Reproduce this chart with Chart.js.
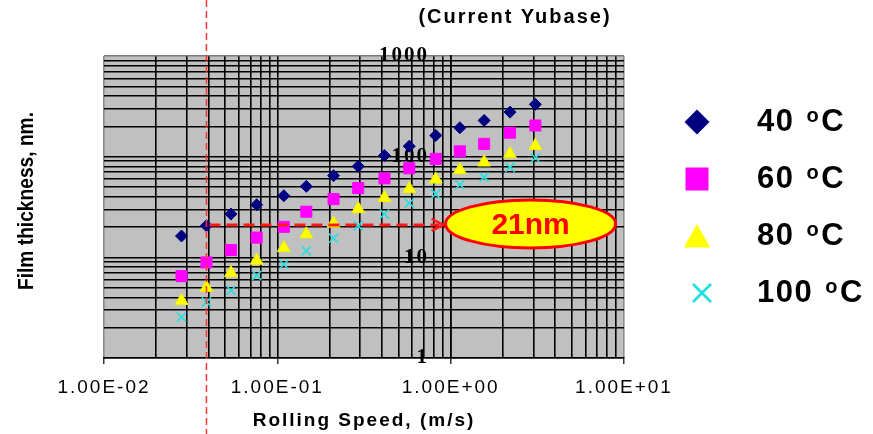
<!DOCTYPE html>
<html>
<head>
<meta charset="utf-8">
<style>
  html, body { margin: 0; padding: 0; background: #fff; }
  #wrap { width: 873px; height: 434px; }
</style>
<script src="https://cdn.jsdelivr.net/npm/chart.js@4.4.1/dist/chart.umd.min.js"></script>
</head>
<body>
<div id="wrap"><canvas id="c" width="873" height="434"></canvas></div>
<script>
// rolling speed, m/s (same speeds for every temperature)
const speeds = [0.028, 0.039, 0.054, 0.076, 0.109, 0.147, 0.211, 0.293, 0.415, 0.577, 0.82, 1.13, 1.56, 2.2, 3.08]
// film thickness, nm
const film40 = [16.3, 20.6, 26.9, 33.3, 40.9, 50.7, 64.8, 80.2, 102.6, 127, 162.6, 193.7, 229, 277, 331]
const film60 = [6.5, 8.9, 11.8, 15.7, 20.1, 28.4, 37.9, 48.9, 60.9, 76.6, 95.1, 113, 134, 173, 204]
const film80 = [3.7, 5.0, 7.0, 9.3, 12.4, 17.0, 21.7, 30.2, 39, 47.8, 59.5, 73.8, 88, 106, 128]
const film100 = [2.55, 3.6, 4.7, 6.6, 8.5, 11.6, 15.5, 20.6, 26.9, 34.6, 42.6, 52.7, 62.4, 78.4, 97.3]

const temps = ['40', '60', '80', '100']
const xDecades = [0.01, 0.1, 1, 10]
const xTickLabels = ['1.00E-02', '1.00E-01', '1.00E+00', '1.00E+01']
const yDecades = [1, 10, 100, 1000]
const yTickLabels = ['1', '10', '100', '1000']

// red guide: speed line, film level, arrow end
const guideSpeed = 0.039
const guideFilm = 21
const arrowSpeed = 0.91
const calloutText = '21nm'

function toXY(ys) {
  return ys.map((y, i) => ({ x: speeds[i], y: y }))
}

// 1..9 x 10^n grid ticks between the decades
function logTicks(decades) {
  const out = []
  for (let i = 0; i < decades.length; i++) {
    const d = decades[i]
    const top = i === decades.length - 1 ? 1 : 9
    for (let k = 1; k <= top; k++) {
      out.push({ value: Number((d * k).toPrecision(3)) })
    }
  }
  return out
}

const markerStyles = ['rectRot', 'rect', 'triangle', 'crossRot']
const markerColors = ['#000080', '#FF00FF', '#FFFF00', '#22E0E0']

function drawMarker(ctx, style, x, y, s, color) {
  ctx.save()
  ctx.fillStyle = color
  ctx.strokeStyle = color
  ctx.beginPath()
  if (style === 'rectRot') {
    ctx.moveTo(x, y - s)
    ctx.lineTo(x + s, y)
    ctx.lineTo(x, y + s)
    ctx.lineTo(x - s, y)
    ctx.closePath()
    ctx.fill()
  } else if (style === 'rect') {
    ctx.rect(x - s, y - s, 2 * s, 2 * s)
    ctx.fill()
  } else if (style === 'triangle') {
    ctx.moveTo(x, y - s)
    ctx.lineTo(x + s * 1.1, y + s * 0.95)
    ctx.lineTo(x - s * 1.1, y + s * 0.95)
    ctx.closePath()
    ctx.fill()
  } else {
    ctx.lineWidth = 2.8
    ctx.moveTo(x - s, y - s)
    ctx.lineTo(x + s, y + s)
    ctx.moveTo(x + s, y - s)
    ctx.lineTo(x - s, y + s)
    ctx.stroke()
  }
  ctx.restore()
}

const backdrop = {
  id: 'backdrop',
  beforeDraw(chart) {
    const { ctx, chartArea } = chart
    ctx.save()
    ctx.fillStyle = '#fff'
    ctx.fillRect(0, 0, chart.width, chart.height)
    ctx.fillStyle = '#C0C0C0'
    ctx.fillRect(chartArea.left, chartArea.top, chartArea.right - chartArea.left, chartArea.bottom - chartArea.top)
    ctx.restore()
    ctx.letterSpacing = '2px'
  }
}

const overlay = {
  id: 'overlay',
  afterDatasetsDraw(chart) {
    const { ctx } = chart
    const xs = chart.scales.x
    const ys = chart.scales.y
    const gx = xs.getPixelForValue(guideSpeed)
    const gy = ys.getPixelForValue(guideFilm)
    const ax = xs.getPixelForValue(arrowSpeed)

    ctx.save()
    // vertical guide, full height
    ctx.strokeStyle = '#FF3333'
    ctx.lineWidth = 1.5
    ctx.setLineDash([7, 4])
    ctx.beginPath()
    ctx.moveTo(gx, 0)
    ctx.lineTo(gx, chart.height)
    ctx.stroke()

    // horizontal guide with arrow
    ctx.strokeStyle = '#FF1A1A'
    ctx.lineWidth = 3
    ctx.setLineDash([11, 6])
    ctx.beginPath()
    ctx.moveTo(gx + 3, gy)
    ctx.lineTo(ax - 4, gy)
    ctx.stroke()
    ctx.setLineDash([])
    ctx.lineWidth = 2.5
    ctx.beginPath()
    ctx.moveTo(ax - 12, gy - 6)
    ctx.lineTo(ax, gy)
    ctx.lineTo(ax - 12, gy + 6)
    ctx.stroke()

    // callout ellipse
    const rx = 85
    const ry = 24
    const cx = ax + 2 + rx
    ctx.beginPath()
    ctx.ellipse(cx, gy - 1, rx, ry, 0, 0, Math.PI * 2)
    ctx.fillStyle = '#FFFF00'
    ctx.fill()
    ctx.strokeStyle = '#FF0000'
    ctx.lineWidth = 3
    ctx.stroke()
    ctx.letterSpacing = '0px'
    ctx.fillStyle = '#FF0000'
    ctx.font = 'bold 30px "Liberation Sans", Arial, sans-serif'
    ctx.textAlign = 'center'
    ctx.textBaseline = 'middle'
    ctx.fillText(calloutText, cx, gy + 1)
    ctx.restore()
  },
  afterDraw(chart) {
    const { ctx } = chart
    ctx.save()
    ctx.fillStyle = '#000'

    // title
    ctx.letterSpacing = '2px'
    ctx.font = 'bold 20px "Liberation Sans", Arial, sans-serif'
    ctx.textAlign = 'center'
    ctx.textBaseline = 'middle'
    ctx.fillText('(Current Yubase)', 515, 17)

    // y axis title, rotated and a bit condensed
    ctx.letterSpacing = '0px'
    ctx.font = 'bold 22px "Liberation Sans", Arial, sans-serif'
    const yt = 'Film thickness, nm.'
    const w = ctx.measureText(yt).width
    ctx.save()
    ctx.translate(27, 201)
    ctx.rotate(-Math.PI / 2)
    ctx.scale(178 / w, 1)
    ctx.fillText(yt, 0, 0)
    ctx.restore()

    // legend
    ctx.textAlign = 'left'
    ctx.letterSpacing = '1.5px'
    for (let i = 0; i < temps.length; i++) {
      const cy = 122 + i * 57
      const sizes = [12.5, 11.5, 12, 9]
      drawMarker(ctx, markerStyles[i], i === 3 ? 702 : 697, cy, sizes[i], markerColors[i])
      ctx.fillStyle = '#000'
      ctx.font = 'bold 31px "Liberation Sans", Arial, sans-serif'
      ctx.textBaseline = 'middle'
      const tx = 757
      ctx.fillText(temps[i], tx, cy)
      const ox = tx + ctx.measureText(temps[i]).width + 12
      ctx.font = 'bold 20px "Liberation Sans", Arial, sans-serif'
      ctx.textBaseline = 'alphabetic'
      ctx.fillText('o', ox, cy)
      const cxp = ox + ctx.measureText('o').width + 1
      ctx.font = 'bold 31px "Liberation Sans", Arial, sans-serif'
      ctx.textBaseline = 'middle'
      ctx.fillText('C', cxp, cy)
    }
    ctx.restore()
  }
}

const config = {
  type: 'scatter',
  data: {
    datasets: [
      { label: '40 oC', data: toXY(film40), pointStyle: 'rectRot', pointRadius: 6, backgroundColor: '#000080', borderColor: '#000080', borderWidth: 1 },
      { label: '60 oC', data: toXY(film60), pointStyle: 'rect', pointRadius: 7.8, backgroundColor: '#FF00FF', borderColor: '#FF00FF', borderWidth: 1 },
      { label: '80 oC', data: toXY(film80), pointStyle: 'triangle', pointRadius: 7.5, backgroundColor: '#FFFF00', borderColor: '#F0F000', borderWidth: 1 },
      { label: '100 oC', data: toXY(film100), pointStyle: 'crossRot', pointRadius: 6.5, backgroundColor: '#22E0E0', borderColor: '#22E0E0', borderWidth: 1.6 }
    ]
  },
  options: {
    responsive: false,
    animation: false,
    events: [],
    layout: { padding: { left: 104, right: 249, top: 56, bottom: 0 } },
    scales: {
      x: {
        type: 'logarithmic',
        position: 'bottom',
        min: 0.01,
        max: 10,
        afterBuildTicks: scale => { scale.ticks = logTicks(xDecades) },
        afterFit: scale => { scale.height = 76 },
        grid: {
          color: c => (c.tick && (c.tick.value === 0.01 || c.tick.value === 10) ? '#8C8C8C' : '#000'),
          lineWidth: 1.6,
          drawTicks: true,
          tickLength: 6,
          tickWidth: 1.2,
          tickColor: c => (c.tick && xDecades.includes(c.tick.value) ? '#000' : 'rgba(0,0,0,0)')
        },
        border: { display: true, color: '#000', width: 1.6 },
        ticks: {
          autoSkip: false,
          maxRotation: 0,
          minRotation: 0,
          padding: 12,
          color: '#000',
          font: { family: '"Liberation Sans", Arial, sans-serif', size: 19 },
          callback: v => {
            const i = xDecades.indexOf(v)
            return i >= 0 ? xTickLabels[i] : ''
          }
        },
        title: {
          display: true,
          text: 'Rolling Speed, (m/s)',
          color: '#000',
          font: { family: '"Liberation Sans", Arial, sans-serif', size: 19, weight: 'bold' },
          padding: { top: 0, bottom: 2 }
        }
      },
      y: {
        type: 'logarithmic',
        position: { x: 1 },
        min: 1,
        max: 1000,
        afterBuildTicks: scale => { scale.ticks = logTicks(yDecades) },
        grid: {
          color: c => (c.tick && c.tick.value === 1000 ? '#7A7A7A' : '#000'),
          lineWidth: 1.6,
          drawTicks: false
        },
        border: { display: true, color: '#000', width: 1.6 },
        ticks: {
          autoSkip: false,
          padding: 0,
          color: '#000',
          font: { family: '"Liberation Serif", "Times New Roman", serif', size: 21, weight: 'bold' },
          // labels sit right-aligned on the axis at x = 1; trailing spaces keep them off the line
          callback: v => {
            const i = yDecades.indexOf(v)
            return i >= 0 ? yTickLabels[i] + '   ' : ''
          }
        }
      }
    },
    plugins: {
      legend: { display: false },
      tooltip: { enabled: false }
    }
  },
  plugins: [backdrop, overlay]
}

new Chart(document.getElementById('c').getContext('2d'), config)
</script>
</body>
</html>
